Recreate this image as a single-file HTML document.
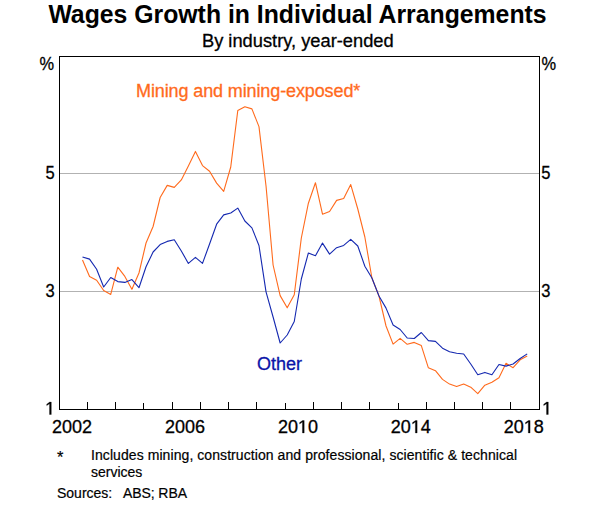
<!DOCTYPE html>
<html><head><meta charset="utf-8"><style>
html,body{margin:0;padding:0;background:#fff;}
body{width:600px;height:505px;overflow:hidden;position:relative;font-family:"Liberation Sans",sans-serif;}
svg{position:absolute;left:0;top:0;}
text{font-family:"Liberation Sans",sans-serif;}
</style></head><body>
<svg width="600" height="505" viewBox="0 0 600 505">
<text x="297.5" y="22.7" text-anchor="middle" font-size="24.8" font-weight="bold" fill="#000" transform="translate(0,22.7) scale(1,1.06) translate(0,-22.7)">Wages Growth in Individual Arrangements</text>
<text x="297.8" y="46.5" text-anchor="middle" font-size="18.3" fill="#000" stroke="#000" stroke-width="0.3">By industry, year-ended</text>
<g stroke="#b2b2b2" stroke-width="1">
<line x1="60" y1="173.5" x2="539" y2="173.5"/>
<line x1="60" y1="291.5" x2="539" y2="291.5"/>
</g>
<g stroke="#000" stroke-width="1"><line x1="87.5" y1="402" x2="87.5" y2="409"/><line x1="115.5" y1="402" x2="115.5" y2="409"/><line x1="143.5" y1="403" x2="143.5" y2="409"/><line x1="172.5" y1="402" x2="172.5" y2="409"/><line x1="200.5" y1="402" x2="200.5" y2="409"/><line x1="228.5" y1="402" x2="228.5" y2="409"/><line x1="256.5" y1="402" x2="256.5" y2="409"/><line x1="285.5" y1="403" x2="285.5" y2="409"/><line x1="313.5" y1="402" x2="313.5" y2="409"/><line x1="341.5" y1="402" x2="341.5" y2="409"/><line x1="369.5" y1="402" x2="369.5" y2="409"/><line x1="398.5" y1="403" x2="398.5" y2="409"/><line x1="426.5" y1="402" x2="426.5" y2="409"/><line x1="454.5" y1="402" x2="454.5" y2="409"/><line x1="482.5" y1="402" x2="482.5" y2="409"/><line x1="510.5" y1="402" x2="510.5" y2="409"/></g>
<polyline fill="none" stroke="#ff6a1c" stroke-width="1.1" stroke-linejoin="round" points="82.50,260.0 89.56,276.5 96.62,280.2 103.68,290.5 110.74,294.4 117.79,267.2 124.85,276.4 131.91,289.3 138.97,273.0 146.03,243.0 153.09,226.5 160.15,197.5 167.21,185.4 174.26,187.4 181.32,179.9 188.38,166.0 195.44,151.4 202.50,165.6 209.56,171.2 216.62,183.1 223.68,191.4 230.74,167.0 237.79,110.5 244.85,106.8 251.91,108.9 258.97,126.6 266.03,186.0 273.09,265.0 280.15,295.6 287.21,307.8 294.26,294.7 301.32,238.0 308.38,203.2 315.44,182.7 322.50,214.2 329.56,211.5 336.62,200.4 343.68,198.5 350.74,184.6 357.79,209.0 364.85,237.0 371.91,278.0 378.97,296.0 386.03,326.0 393.09,344.1 400.15,338.4 407.21,344.3 414.26,342.4 421.32,345.6 428.38,367.8 435.44,370.7 442.50,379.4 449.56,384.1 456.62,386.5 463.68,384.1 470.74,387.2 477.79,393.6 484.85,385.2 491.91,382.3 498.97,377.8 506.03,363.3 513.09,367.7 520.15,359.8 527.21,356.1"/>
<polyline fill="none" stroke="#1428b0" stroke-width="1.1" stroke-linejoin="round" points="82.50,257.0 89.56,259.1 96.62,269.2 103.68,287.0 110.74,277.5 117.79,281.6 124.85,282.4 131.91,279.6 138.97,287.7 146.03,266.8 153.09,252.0 160.15,244.6 167.21,241.4 174.26,239.8 181.32,251.0 188.38,263.4 195.44,257.4 202.50,263.4 209.56,244.0 216.62,224.2 223.68,214.9 230.74,213.0 237.79,208.1 244.85,221.0 251.91,227.9 258.97,245.5 266.03,291.8 273.09,317.0 280.15,343.0 287.21,335.0 294.26,321.5 301.32,279.0 308.38,253.0 315.44,255.8 322.50,243.1 329.56,254.1 336.62,247.7 343.68,245.4 350.74,239.4 357.79,246.0 364.85,266.2 371.91,278.0 378.97,296.0 386.03,308.1 393.09,325.0 400.15,329.5 407.21,338.0 414.26,338.5 421.32,332.5 428.38,340.6 435.44,341.4 442.50,348.2 449.56,351.7 456.62,353.3 463.68,354.0 470.74,364.0 477.79,374.7 484.85,372.4 491.91,374.7 498.97,364.5 506.03,366.1 513.09,364.0 520.15,358.5 527.21,353.9"/>
<rect x="59.5" y="56.5" width="480" height="353" fill="none" stroke="#000" stroke-width="1"/>
<g font-size="18" fill="#000" stroke="#000" stroke-width="0.3">
<text x="39.6" y="70" textLength="14.6" lengthAdjust="spacingAndGlyphs">%</text>
<text x="541.6" y="70" textLength="14.6" lengthAdjust="spacingAndGlyphs">%</text>
<text x="54.6" y="178.7" text-anchor="end" textLength="9.2" lengthAdjust="spacingAndGlyphs">5</text>
<text x="541.3" y="178.7" textLength="9.2" lengthAdjust="spacingAndGlyphs">5</text>
<text x="54.6" y="296.6" text-anchor="end" textLength="9.2" lengthAdjust="spacingAndGlyphs">3</text>
<text x="541.3" y="296.6" textLength="9.2" lengthAdjust="spacingAndGlyphs">3</text>
<path d="M49.53,414.50 L49.53,403.63 L46.73,405.62 L46.73,404.13 L49.66,402.12 L51.29,402.12 L51.29,414.50 Z" fill="#000"/>
<path d="M546.53,414.50 L546.53,403.63 L543.73,405.62 L543.73,404.13 L546.66,402.12 L548.29,402.12 L548.29,414.50 Z" fill="#000"/>
<text x="72.0" y="432.9" text-anchor="middle">2002</text><text x="185.0" y="432.9" text-anchor="middle">2006</text><text x="297.9" y="432.9" text-anchor="middle">20&#8199;0</text><path d="M302.43,432.90 L302.43,422.03 L299.63,424.02 L299.63,422.53 L302.56,420.52 L304.19,420.52 L304.19,432.90 Z" fill="#000"/><text x="410.8" y="432.9" text-anchor="middle">20&#8199;4</text><path d="M415.37,432.90 L415.37,422.03 L412.57,424.02 L412.57,422.53 L415.50,420.52 L417.13,420.52 L417.13,432.90 Z" fill="#000"/><text x="523.8" y="432.9" text-anchor="middle">20&#8199;8</text><path d="M528.31,432.90 L528.31,422.03 L525.51,424.02 L525.51,422.53 L528.44,420.52 L530.08,420.52 L530.08,432.90 Z" fill="#000"/>
</g>
<text x="136" y="97" font-size="18" fill="#ff6a1c" stroke="#ff6a1c" stroke-width="0.3" textLength="224.3">Mining and mining-exposed*</text>
<text x="257" y="369.5" font-size="18" fill="#0a14a8" stroke="#0a14a8" stroke-width="0.3">Other</text>
<g font-size="14" fill="#000" stroke="#000" stroke-width="0.2">
<text x="57" y="463.3" font-size="16.5">*</text>
<text x="91" y="460" textLength="426">Includes mining, construction and professional, scientific &amp; technical</text>
<text x="91" y="477">services</text>
<text x="57" y="498">Sources:</text>
<text x="123" y="498" textLength="64">ABS; RBA</text>
</g>
</svg>
</body></html>
